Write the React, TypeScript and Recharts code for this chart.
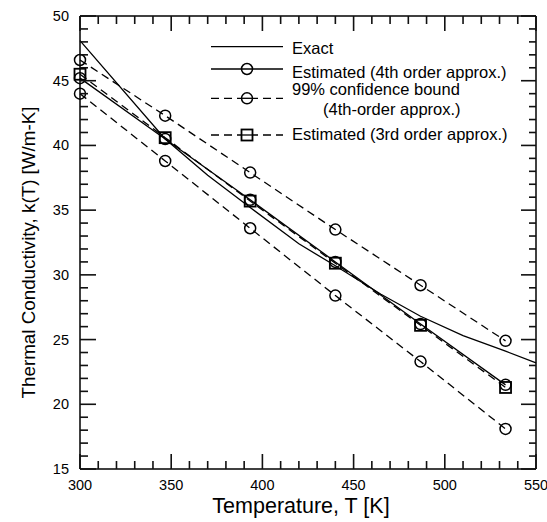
import { LineChart, Line, XAxis, YAxis, ReferenceLine } from 'recharts';

// nodes where the estimates were evaluated
const temps = [300, 346.7, 393.3, 440, 486.7, 533.3];
const est4th = [45.2, 40.5, 35.8, 31.0, 26.2, 21.5];
const est3rd = [45.5, 40.6, 35.7, 30.9, 26.1, 21.3];
const upper99 = [46.6, 42.3, 37.9, 33.5, 29.2, 24.9];
const lower99 = [44.0, 38.8, 33.6, 28.4, 23.3, 18.1];

// exact k(T) curve
const exactT = [300, 346.7, 370, 393.3, 420, 440, 465, 486.7, 510, 533.3, 550];
const exactK = [48.1, 40.5, 37.7, 35.2, 32.4, 30.7, 28.5, 26.8, 25.3, 24.1, 23.2];

const xTicks = [300, 310, 320, 330, 340, 350, 360, 370, 380, 390, 400, 410, 420, 430, 440, 450, 460, 470, 480, 490, 500, 510, 520, 530, 540, 550];
const yTicks = [15, 16, 17, 18, 19, 20, 21, 22, 23, 24, 25, 26, 27, 28, 29, 30, 31, 32, 33, 34, 35, 36, 37, 38, 39, 40, 41, 42, 43, 44, 45, 46, 47, 48, 49, 50];

const X_DOMAIN = [300, 550];
const Y_DOMAIN = [15, 50];

const W = 547;
const H = 522;
const MARGIN = { top: 16, right: 11, bottom: 0, left: 0 };
const X_AXIS_H = 53;
const Y_AXIS_W = 80;
// plot box that follows from the sizes above
const PLOT = { left: Y_AXIS_W, right: W - MARGIN.right, top: MARGIN.top, bottom: H - X_AXIS_H };

const FONT = '"Liberation Sans", Arial, sans-serif';
const DASH = '8 5';
const TICK_W = 1.6;
const TICK_C = '#111';
const FRAME_W = 1.5;

const toRows = (xs: number[], ys: number[]) => xs.map((T, i) => ({ T, k: ys[i] }));

const isMajorX = (v: number) => v % 50 === 0;
const isMajorY = (v: number) => v % 5 === 0;

const bottomLabel = (p: any) => {
  const v = p.payload.value;
  if (!isMajorX(v)) return <g key={`b${p.index}`} />;
  return (
    <text key={`b${p.index}`} x={p.x} y={p.y + 21} textAnchor="middle" fontSize={14.5} fontFamily={FONT} fill="#000">
      {v}
    </text>
  );
};

const leftLabel = (p: any) => {
  const v = p.payload.value;
  if (!isMajorY(v)) return <g key={`l${p.index}`} />;
  return (
    <text key={`l${p.index}`} x={p.x - 11} y={p.y + 5} textAnchor="end" fontSize={14.5} fontFamily={FONT} fill="#000">
      {v}
    </text>
  );
};

const circleDot = (p: any) => (
  <circle key={`c${p.index}`} cx={p.cx} cy={p.cy} r={5.5} fill="none" stroke="#000" strokeWidth={1.5} />
);

const squareDot = (p: any) => (
  <rect key={`s${p.index}`} x={p.cx - 5.5} y={p.cy - 5.5} width={11} height={11} fill="none" stroke="#000" strokeWidth={1.8} />
);

// inward tick marks on all four sides, laid over the chart as thin filled bars
function FrameTicks() {
  const sx = (t: number) => PLOT.left + ((t - X_DOMAIN[0]) / (X_DOMAIN[1] - X_DOMAIN[0])) * (PLOT.right - PLOT.left);
  const sy = (v: number) => PLOT.bottom - ((v - Y_DOMAIN[0]) / (Y_DOMAIN[1] - Y_DOMAIN[0])) * (PLOT.bottom - PLOT.top);
  const half = TICK_W / 2;
  const bars: any[] = [];
  xTicks.forEach((t) => {
    const len = isMajorX(t) ? 15 : 8;
    const x = sx(t) - half;
    bars.push(<rect key={`xb${t}`} x={x} y={PLOT.bottom - len} width={TICK_W} height={len} fill={TICK_C} />);
    bars.push(<rect key={`xt${t}`} x={x} y={PLOT.top} width={TICK_W} height={len} fill={TICK_C} />);
  });
  yTicks.forEach((v) => {
    const major = isMajorY(v);
    const y = sy(v) - half;
    const lenL = major ? 16 : 8;
    const lenR = major ? 15 : 7;
    bars.push(<rect key={`yl${v}`} x={PLOT.left} y={y} width={lenL} height={TICK_W} fill={TICK_C} />);
    bars.push(<rect key={`yr${v}`} x={PLOT.right - lenR} y={y} width={lenR} height={TICK_W} fill={TICK_C} />);
  });
  return (
    <svg width={W} height={H} style={{ position: 'absolute', left: 0, top: 0, pointerEvents: 'none' }}>
      {bars}
    </svg>
  );
}

const legendText = { fontSize: 16.5, fontFamily: FONT, fill: '#000' };

function ChartLegend() {
  return (
    <svg width={340} height={120} style={{ position: 'absolute', left: 205, top: 30 }}>
      <line x1={6} x2={78} y1={16.7} y2={16.7} stroke="#000" strokeWidth={1.3} />
      <text x={87} y={23.5} {...legendText}>Exact</text>

      <line x1={6} x2={78} y1={39} y2={39} stroke="#000" strokeWidth={1.3} />
      <circle cx={42} cy={39} r={5.5} fill="none" stroke="#000" strokeWidth={1.5} />
      <text x={87} y={47.5} {...legendText}>Estimated (4th order approx.)</text>

      <line x1={6} x2={78} y1={68.3} y2={68.3} stroke="#000" strokeWidth={1.3} strokeDasharray={DASH} />
      <circle cx={42} cy={68.3} r={5.5} fill="#fff" stroke="#000" strokeWidth={1.5} />
      <line x1={36.5} x2={47.5} y1={68.3} y2={68.3} stroke="#000" strokeWidth={1.3} />
      <text x={87} y={65} {...legendText}>99% confidence bound</text>
      <text x={118} y={85} {...legendText}>(4th-order approx.)</text>

      <line x1={6} x2={78} y1={105} y2={105} stroke="#000" strokeWidth={1.3} strokeDasharray={DASH} />
      <rect x={36.5} y={99.5} width={11} height={11} fill="#fff" stroke="#000" strokeWidth={1.8} />
      <line x1={36.5} x2={47.5} y1={105} y2={105} stroke="#000" strokeWidth={1.3} />
      <text x={87} y={110} {...legendText}>Estimated (3rd order approx.)</text>
    </svg>
  );
}

export default function App() {
  return (
    <div style={{ position: 'absolute', left: 0, top: 0, width: W, height: H }}>
      <LineChart width={W} height={H} margin={MARGIN}>
        <XAxis
          dataKey="T"
          type="number"
          domain={X_DOMAIN}
          ticks={xTicks}
          interval={0}
          height={X_AXIS_H}
          tickSize={0}
          tickMargin={0}
          tickLine={false}
          tick={bottomLabel}
          axisLine={{ stroke: '#000', strokeWidth: FRAME_W }}
          label={{
            value: 'Temperature, T [K]',
            position: 'insideBottom',
            offset: 9,
            dx: -7,
            style: { fontSize: 21.5, fontFamily: FONT, fill: '#000' },
          }}
        />
        <YAxis
          type="number"
          domain={Y_DOMAIN}
          ticks={yTicks}
          interval={0}
          width={Y_AXIS_W}
          tickSize={0}
          tickMargin={0}
          tickLine={false}
          tick={leftLabel}
          axisLine={{ stroke: '#000', strokeWidth: FRAME_W }}
          label={{
            value: 'Thermal Conductivity, k(T) [W/m-K]',
            angle: -90,
            position: 'center',
            dx: -12,
            dy: 10,
            style: { fontSize: 18.8, fontFamily: FONT, fill: '#000', textAnchor: 'middle' },
          }}
        />

        {/* top and right sides of the frame */}
        <ReferenceLine y={Y_DOMAIN[1]} stroke="#000" strokeWidth={FRAME_W} ifOverflow="visible" />
        <ReferenceLine x={X_DOMAIN[1]} stroke="#000" strokeWidth={FRAME_W} ifOverflow="visible" />

        <Line data={toRows(exactT, exactK)} dataKey="k" type="linear" stroke="#000" strokeWidth={1.3} dot={false} isAnimationActive={false} />
        <Line data={toRows(temps, upper99)} dataKey="k" type="linear" stroke="#000" strokeWidth={1.3} strokeDasharray={DASH} dot={circleDot} isAnimationActive={false} />
        <Line data={toRows(temps, lower99)} dataKey="k" type="linear" stroke="#000" strokeWidth={1.3} strokeDasharray={DASH} dot={circleDot} isAnimationActive={false} />
        <Line data={toRows(temps, est3rd)} dataKey="k" type="linear" stroke="#000" strokeWidth={1.3} strokeDasharray={DASH} dot={squareDot} isAnimationActive={false} />
        <Line data={toRows(temps, est4th)} dataKey="k" type="linear" stroke="#000" strokeWidth={1.3} dot={circleDot} isAnimationActive={false} />
      </LineChart>
      <FrameTicks />
      <ChartLegend />
    </div>
  );
}
